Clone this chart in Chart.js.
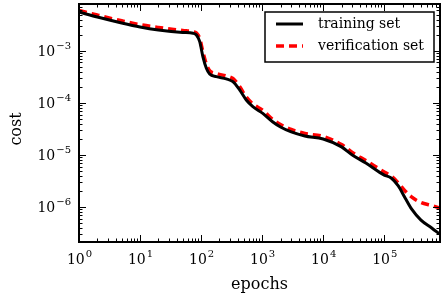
<!DOCTYPE html>
<html lang="en">
<head>
<meta charset="UTF-8">
<title>Cost vs epochs</title>
<script src="https://cdn.jsdelivr.net/npm/chart.js"></script>
<style>
  html, body { margin: 0; padding: 0; background: #fff; }
  #wrap { width: 441px; height: 299px; }
</style>
</head>
<body>
<div id="wrap"><canvas id="costChart"></canvas></div>
<script>
// values
const epochs = [1, 2, 5, 10, 20, 50, 74, 84, 95, 107, 122, 138, 178, 259, 332, 428, 550, 705, 1026,
  1500, 2000, 3000, 5000, 10000, 20000, 30000, 50000, 100000, 130000, 170000, 220000, 280000,
  400000, 600000, 800000];
const trainingCost = [5.6e-3, 4.5e-3, 3.46e-3, 2.9e-3, 2.54e-3, 2.27e-3, 2.19e-3, 2.03e-3, 1.51e-3,
  7.8e-4, 4.65e-4, 3.61e-4, 3.21e-4, 2.9e-4, 2.57e-4, 1.78e-4, 1.14e-4, 8.5e-5, 6.3e-5,
  4.3e-5, 3.45e-5, 2.77e-5, 2.32e-5, 2.03e-5, 1.43e-5, 1.0e-5, 7.0e-6, 4.1e-6, 3.61e-6, 2.54e-6,
  1.49e-6, 9.2e-7, 5.6e-7, 3.95e-7, 3.03e-7];
const verificationCost = [6.0e-3, 4.9e-3, 3.8e-3, 3.2e-3, 2.83e-3, 2.48e-3, 2.34e-3, 2.22e-3, 1.74e-3,
  9.6e-4, 5.6e-4, 4.2e-4, 3.69e-4, 3.3e-4, 2.96e-4, 2.07e-4, 1.3e-4, 9.6e-5, 7.2e-5,
  4.8e-5, 3.86e-5, 3.09e-5, 2.59e-5, 2.27e-5, 1.59e-5, 1.12e-5, 7.8e-6, 4.7e-6, 3.94e-6, 2.9e-6,
  2.03e-6, 1.56e-6, 1.22e-6, 1.07e-6, 9.6e-7];
const seriesNames = ["training set", "verification set"];
const xDecades = [0, 1, 2, 3, 4, 5];
const yDecades = [-6, -5, -4, -3];

const FONT = '"DejaVu Serif", "Liberation Serif", serif';

function pts(ys) { return epochs.map((e, i) => ({ x: e, y: ys[i] })); }

// draw "10" with a raised exponent
function powLabel(ctx, exp, x, y, align) {
  const base = "10", sup = exp < 0 ? "\u2212" + (-exp) : String(exp);
  ctx.font = "14px " + FONT;
  const wb = ctx.measureText(base).width;
  ctx.font = "10px " + FONT;
  const ws = ctx.measureText(sup).width;
  let left = align === "right" ? x - wb - ws : x - (wb + ws) / 2;
  ctx.textAlign = "left";
  ctx.textBaseline = "alphabetic";
  ctx.font = "14px " + FONT;
  ctx.fillText(base, left, y);
  ctx.font = "10px " + FONT;
  ctx.fillText(sup, left + wb + 1, y - 7);
}

const framePlugin = {
  id: "frame",
  afterDatasetsDraw(chart) {
    const ctx = chart.ctx, a = chart.chartArea;
    const xs = chart.scales.x, ys = chart.scales.y;
    ctx.save();
    ctx.strokeStyle = "#000";
    ctx.fillStyle = "#000";
    // inward ticks, all four sides
    ctx.lineWidth = 1;
    ctx.beginPath();
    for (let d = -1; d <= 6; d++) {
      for (let k = 1; k <= 9; k++) {
        const v = k * Math.pow(10, d);
        if (v < xs.min || v > xs.max) continue;
        const px = Math.round(xs.getPixelForValue(v)) + 0.5;
        const len = k === 1 ? 7 : 3.5;
        ctx.moveTo(px, a.bottom); ctx.lineTo(px, a.bottom - len);
        ctx.moveTo(px, a.top); ctx.lineTo(px, a.top + len);
      }
    }
    for (let d = -8; d <= -2; d++) {
      for (let k = 1; k <= 9; k++) {
        const v = k * Math.pow(10, d);
        if (v < ys.min || v > ys.max) continue;
        const py = Math.round(ys.getPixelForValue(v)) + 0.5;
        const len = k === 1 ? 7 : 3.5;
        ctx.moveTo(a.left, py); ctx.lineTo(a.left + len, py);
        ctx.moveTo(a.right, py); ctx.lineTo(a.right - len, py);
      }
    }
    ctx.stroke();
    // spines
    ctx.lineWidth = 2;
    ctx.strokeRect(a.left, a.top, a.right - a.left, a.bottom - a.top);

    // tick labels
    xDecades.forEach(d => powLabel(ctx, d, xs.getPixelForValue(Math.pow(10, d)), a.bottom + 22, "center"));
    yDecades.forEach(d => powLabel(ctx, d, a.left - 9, ys.getPixelForValue(Math.pow(10, d)) + 5, "right"));

    // axis titles
    ctx.font = "16px " + FONT;
    ctx.textAlign = "center";
    ctx.textBaseline = "middle";
    ctx.fillText("epochs", (a.left + a.right) / 2, 285);
    ctx.save();
    ctx.translate(17, 129);
    ctx.rotate(-Math.PI / 2);
    ctx.fillText("cost", 0, 0);
    ctx.restore();

    // legend
    const lx = 265, ly = 12, lw = 169, lh = 50;
    ctx.fillStyle = "#fff";
    ctx.fillRect(lx, ly, lw, lh);
    ctx.lineWidth = 1.5;
    ctx.strokeStyle = "#000";
    ctx.strokeRect(lx, ly, lw, lh);
    chart.data.datasets.forEach((ds, i) => {
      const yy = ly + 12 + i * 22;
      ctx.strokeStyle = ds.borderColor;
      ctx.lineWidth = ds.borderWidth;
      ctx.setLineDash(ds.borderDash || []);
      ctx.beginPath();
      ctx.moveTo(lx + 11, yy); ctx.lineTo(lx + 38, yy);
      ctx.stroke();
      ctx.setLineDash([]);
      ctx.fillStyle = "#000";
      ctx.font = "14px " + FONT;
      ctx.textAlign = "left";
      ctx.textBaseline = "middle";
      ctx.fillText(ds.label, lx + 53, yy);
    });
    ctx.restore();
  }
};

new Chart(document.getElementById("costChart").getContext("2d"), {
  type: "line",
  data: {
    datasets: [
      { label: seriesNames[0], data: pts(trainingCost), borderColor: "#000", borderWidth: 3,
        pointRadius: 0, fill: false, cubicInterpolationMode: "monotone" },
      { label: seriesNames[1], data: pts(verificationCost), borderColor: "#ff0000", borderWidth: 3.5,
        borderDash: [8, 5], pointRadius: 0, fill: false, cubicInterpolationMode: "monotone" }
    ]
  },
  options: {
    responsive: true,
    maintainAspectRatio: false,
    animation: false,
    layout: { padding: { top: 4, right: 1, left: 0, bottom: 0 } },
    plugins: { legend: { display: false }, tooltip: { enabled: false } },
    scales: {
      x: {
        type: "logarithmic", min: 1, max: 8.2e5,
        grid: { display: false }, border: { display: false },
        ticks: { display: false },
        afterFit(s) { s.height = 57; }
      },
      y: {
        type: "logarithmic", min: 2.12e-7, max: 8.0e-3,
        grid: { display: false }, border: { display: false },
        ticks: { display: false },
        afterFit(s) { s.width = 79; }
      }
    }
  },
  plugins: [framePlugin]
});
</script>
</body>
</html>
